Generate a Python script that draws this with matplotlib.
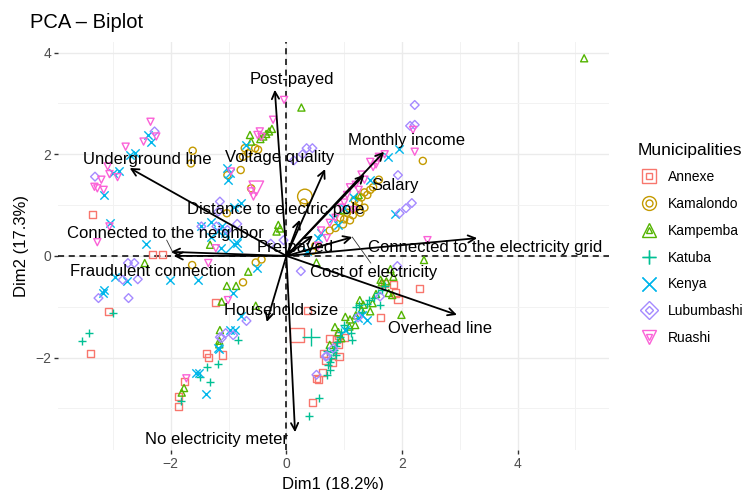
import matplotlib
matplotlib.use("Agg")
import matplotlib.pyplot as plt
from matplotlib.lines import Line2D

plt.rcParams['font.family'] = ['Liberation Sans', 'DejaVu Sans']

# ---------------- data ----------------
groups = ["Annexe", "Kamalondo", "Kampemba", "Katuba", "Kenya", "Lubumbashi", "Ruashi"]
colors = ["#F8766D", "#C49A00", "#53B400", "#00C094", "#00B6EB", "#A58AFF", "#FB61D7"]
markers = ["s", "o", "^", "+", "x", "D", "v"]

annexe_x = [-3.36, -2.31, -2.15, -3.08, -3.39, -1.76, -1.86, -1.87, -1.38, -1.35, -1.10, -1.22,
            0.37, 0.45, 0.55, 0.63, 0.67, 0.91, 0.64, 0.74, 0.90, 0.86, 0.90, 1.62, 1.85, 1.89,
            1.93, 2.31, 0.52, 1.00, 0.80, 1.70]
annexe_y = [0.81, 0.02, 0.03, -1.10, -1.92, -2.47, -2.77, -2.97, -1.92, -2.00, -1.95, -0.92,
            -1.08, -2.88, -2.44, -2.30, -2.05, -1.98, -1.92, -1.62, -1.56, -1.65, -1.75, -1.21, -0.57, -0.73,
            -0.85, -0.64, -2.42, -1.60, -2.10, -0.55]

kamalondo_x = [-1.62, -1.65, -1.63, -0.53, -0.43, -0.75, -0.72, -0.54, -0.49, -0.66, -0.75, -1.02,
               -0.79, -0.61, -1.03, 2.36, 0.93, 1.00, 1.10, 1.05, 1.20, 1.25, 1.30, 1.35, 1.18, 1.40,
               1.50, 1.28, 0.75, 0.85, 0.50, 0.45, 1.60, 0.30, 1.15, 1.35, 0.98, 1.45]
kamalondo_y = [2.07, 1.82, -0.18, -0.13, -0.07, -0.52, 2.12, 2.12, 2.09, 2.02, 1.95, 1.59,
               1.69, 1.33, 0.84, 1.87, 0.75, 0.72, 0.70, 0.85, 0.95, 1.05, 1.15, 1.25, 1.10, 1.20,
               1.35, 0.85, 0.50, 0.55, 0.20, 0.10, 1.50, 1.05, 0.80, 0.95, 0.62, 1.30]

kampemba_x = [5.15, 0.26, -0.30, -0.35, -0.40, -0.25, -0.63, -0.61, -0.14, -0.17, -0.11, -1.32,
              -2.45, -0.66, -0.87, -1.03, -1.12, -0.53, -1.15, -1.16, -1.16, -1.77, -1.81, 0.52,
              2.38, 1.80, 1.85, 1.99, 0.84, 1.09, 1.19, 1.20, 1.30, 1.45, 1.49, 1.27, 1.33, 1.65,
              1.73, 1.63, 1.77, 1.83, 1.02, 0.95, 1.00, 1.25, -0.45, 0.75, 0.90, 1.10, 1.55]
kampemba_y = [3.89, 2.92, 2.45, 2.40, 2.35, 2.50, 2.38, 2.25, 0.61, 0.48, 0.54, 0.22,
              -0.14, -0.31, -0.59, -0.59, -0.90, -0.98, -1.46, -1.67, -1.74, -2.60, -2.69, -0.13,
              -0.08, -0.26, -0.41, -1.16, -1.40, -1.39, -1.36, -1.17, -1.06, -1.09, -0.93, -0.87, -0.96, -0.52,
              -0.50, -0.47, -0.73, -0.77, -1.20, -1.62, 0.90, 1.20, 2.30, -1.75, -1.50, -1.25, -0.75]

katuba_x = [-3.00, -3.42, -3.53, -1.83, -1.38, -1.50, -1.32, -1.18, -0.83, 0.39, 0.57, 0.72,
            0.75, 0.78, 0.80, 0.85, 0.88, 0.83, 1.12, 1.13, 1.20, 1.25, 1.43, 1.52, 1.62, 1.65,
            1.59, 1.70, 0.95, 1.00, 0.76, 0.70, 0.92, 1.05, 1.30, 1.40, 0.85, 0.70]
katuba_y = [-1.13, -1.52, -1.67, -2.85, -2.18, -2.38, -2.49, -2.13, -1.65, -3.15, -2.80, -2.15,
            -2.08, -2.01, -1.90, -1.78, -1.70, -1.85, -1.52, -1.65, -1.00, -0.97, -0.87, -0.83, -0.96, -0.67,
            -0.73, -0.60, -1.50, -1.35, -2.25, -1.88, -1.60, -1.42, -1.10, -0.95, -1.95, -2.35]

kenya_x = [-2.40, -2.35, -2.61, -2.70, -2.89, -3.00, -3.16, -3.05, -2.43, -2.97, -2.75, -2.02,
           -3.15, -3.17, -1.56, -1.51, -1.39, -1.18, -0.89, -0.98, -1.16, -1.53, -0.51, -0.92,
           -0.78, -0.69, -1.03, -0.98, -1.01, -0.78, -0.90, -1.31, -1.47, -1.30, -1.07, -1.12,
           -1.18, -0.85, -1.13, 1.88, 1.01, 1.24, 1.39, 1.30, 1.95, 0.60, 0.55, 0.80, 1.45, 1.75,
           1.00, 1.15, 0.90, 0.35]
kenya_y = [2.38, 2.25, 2.03, 1.99, 1.67, 1.63, 1.19, 0.64, 0.24, -0.41, -0.49, -0.47,
           -0.67, -0.73, -2.31, -2.30, -2.72, -1.82, -1.46, -1.46, -1.84, -0.47, -0.24, -0.73,
           -1.19, 2.19, 1.73, 1.63, 1.50, 1.04, 0.97, 0.66, 0.58, 0.38, 0.45, 0.58,
           0.50, 0.25, 0.15, 0.83, -1.46, -1.23, -1.26, -1.16, 2.10, 0.45, 0.35, 0.75, 1.50, 1.95,
           0.95, 1.15, 0.60, 0.10]

lubumbashi_x = [-2.28, -3.31, -2.74, -2.63, -2.83, -2.57, -3.25, -2.73, -0.69, -1.15, -1.05, -0.92,
                -1.12, 0.52, 0.70, 0.81, 0.68, 1.24, 1.62, 1.92, 2.22, 2.14, 2.22, 1.93, 2.17,
                2.07, 1.96, 0.35, 0.45, 0.28, 0.13, -1.47, -1.21, -1.02, -0.85, -0.27, -0.05,
                -1.15, -1.18, 0.25]
lubumbashi_y = [2.45, 1.56, -0.14, -0.14, -0.47, -0.46, -0.83, -0.83, -1.28, -1.60, -1.52, -1.56,
                -1.62, -2.34, -1.97, -1.82, -1.98, -1.21, -0.80, -0.20, 2.97, 2.56, 2.58, 1.59, 1.04,
                0.94, 0.84, 2.12, 2.12, 2.00, 1.88, 0.58, 0.58, 0.51, 0.63, 0.24, 0.31,
                1.07, 0.87, -0.30]

ruashi_x = [-2.35, -2.25, -2.47, -2.78, -3.09, -3.06, -2.92, -3.20, -3.32, -3.27, -3.16, -3.06,
            -3.27, -1.73, -1.35, -1.01, -0.04, -0.23, -0.46, -0.50, -0.43, -0.96, -0.57, -0.61,
            2.19, 2.22, 1.45, 1.60, 1.50, 1.30, 1.20, 1.10, 1.05, 0.95, 1.00, 0.60, 0.70, 0.55,
            2.44, -1.22, 1.70, 1.55, 1.35, 1.25, 0.85, 0.75, 1.15]
ruashi_y = [2.64, 2.35, 2.25, 2.15, 1.76, 1.61, 1.55, 1.50, 1.36, 1.33, 1.30, 0.58,
            0.27, -2.41, -0.14, -0.87, 3.07, 2.68, 2.45, 2.38, 2.34, 1.66, 1.17, 1.27,
            2.48, 2.05, 1.85, 1.95, 1.75, 1.60, 1.40, 1.35, 1.20, 0.95, 1.05, 0.50, 0.35, 0.20,
            0.31, 0.15, 2.00, 1.80, 1.50, 1.30, 0.75, 0.65, 0.90]

# a few individuals drawn larger
big_group = ["Annexe", "Katuba", "Kamalondo", "Ruashi", "Kenya"]
big_x = [0.18, 0.42, 0.32, -0.52, -0.90]
big_y = [-1.56, -1.60, 1.17, 1.33, 0.24]

# variable arrows
var_names = ["Post-payed", "Underground line", "Voltage quality", "Monthly income", "Salary",
             "Distance to electric pole", "Connected to the neighbor", "Fraudulent connection",
             "Pre-payed", "Connected to the electricity grid", "Cost of electricity",
             "Overhead line", "Household size", "No electricity meter"]
var_x = [-0.20, -2.71, 0.67, 1.69, 1.35, 0.23, -2.00, -1.95, 0.46, 3.30, 1.14, 2.95, -0.34, 0.15]
var_y = [3.27, 1.73, 1.71, 2.05, 1.60, 0.71, 0.08, 0.00, 0.40, 0.35, 0.37, -1.16, -1.30, -3.47]
lab_x = [0.10, -2.41, -0.11, 2.08, 1.88, -0.18, -2.10, -2.31, 0.15, 3.43, 1.51, 2.66, -0.10, -1.20]
lab_y = [3.48, 1.89, 1.93, 2.28, 1.38, 0.91, 0.45, -0.30, 0.16, 0.16, -0.33, -1.42, -1.08, -3.62]

xs = [annexe_x, kamalondo_x, kampemba_x, katuba_x, kenya_x, lubumbashi_x, ruashi_x]
ys = [annexe_y, kamalondo_y, kampemba_y, katuba_y, kenya_y, lubumbashi_y, ruashi_y]

# ---------------- figure ----------------
fig = plt.figure(figsize=(7.5, 4.9), dpi=100)
ax = fig.add_axes([58/750, 1-450/490, (609-58)/750, (450-42)/490])
ax.set_xlim(-3.95, 5.58)
ax.set_ylim(-3.82, 4.21)

for s in ax.spines.values():
    s.set_visible(False)
ax.set_xticks([-2, 0, 2, 4])
ax.set_yticks([-2, 0, 2, 4])
ax.set_xticks([-3, -1, 1, 3, 5], minor=True)
ax.set_yticks([-3, -1, 1, 3], minor=True)
ax.grid(True, which='major', color='#EBEBEB', lw=1.0)
ax.grid(True, which='minor', color='#F2F2F2', lw=0.7)
ax.set_axisbelow(True)
ax.tick_params(which='major', length=3, width=1, color='#333333', labelcolor='#4D4D4D', labelsize=10, pad=2)
ax.tick_params(which='minor', length=0)
ax.set_xticklabels(['\u22122', '0', '2', '4'])
ax.set_yticklabels(['\u22122', '0', '2', '4'])

ax.axhline(0, color='black', lw=1.1, ls=(0, (4, 3)), zorder=1)
ax.axvline(0, color='black', lw=1.1, ls=(0, (4, 3)), zorder=1)

for g, c, m, x, y in zip(groups, colors, markers, xs, ys):
    if m in ['+', 'x']:
        ax.scatter(x, y, marker=m, c=c, s=36, linewidths=1.0, zorder=2)
    else:
        ax.scatter(x, y, marker=m, facecolors='none', edgecolors=c, s=26 if m != 'D' else 20,
                   linewidths=1.0, zorder=2)

for g, x, y in zip(big_group, big_x, big_y):
    i = groups.index(g)
    m = markers[i]
    if m in ['+', 'x']:
        ax.scatter([x], [y], marker=m, c=colors[i], s=150, linewidths=1.0, zorder=2)
    else:
        ax.scatter([x], [y], marker=m, facecolors='none', edgecolors=colors[i], s=110,
                   linewidths=1.0, zorder=2)

for n, vx, vy, lx, ly in zip(var_names, var_x, var_y, lab_x, lab_y):
    ax.annotate('', xy=(vx, vy), xytext=(0, 0),
                arrowprops=dict(arrowstyle='->', lw=1.3, color='black',
                                mutation_scale=13, shrinkA=0, shrinkB=0), zorder=3)
    ax.text(lx, ly, n, ha='center', va='center', fontsize=12, color='black', zorder=4)

# repel segments
ax.plot([-1.96, -2.07], [0.06, 0.31], color='#333333', lw=0.6, zorder=3)
ax.plot([1.14, 1.46], [0.37, -0.14], color='#333333', lw=0.6, zorder=3)

ax.set_xlabel('Dim1 (18.2%)', fontsize=12, labelpad=4)
ax.set_ylabel('Dim2 (17.3%)', fontsize=12, labelpad=4)
fig.text(30/750, 1-22/490, 'PCA \u2013 Biplot', fontsize=14.5, ha='left', va='center')

handles = []
for c, m in zip(colors, markers):
    if m in ['+', 'x']:
        h1 = Line2D([], [], ls='none', marker=m, color=c, markersize=10, mew=1.0)
        h2 = Line2D([], [], ls='none', marker=m, color=c, markersize=10, mew=1.0)
    else:
        ms = 10 if m != 'D' else 9
        h1 = Line2D([], [], ls='none', marker=m, color=c, markersize=ms, mew=1.0, fillstyle='none')
        h2 = Line2D([], [], ls='none', marker=m, color=c, markersize=ms*0.5, mew=1.0, fillstyle='none')
    handles.append((h1, h2))

leg = fig.legend(handles, groups, loc='upper left', bbox_to_anchor=(632/750, 1-137/490),
                 title='Municipalities', title_fontsize=12.5, fontsize=10, frameon=False,
                 labelspacing=0.92, handletextpad=0.6, handlelength=1.6, borderaxespad=0)
leg._legend_box.align = 'left'

fig.savefig('out.png', dpi=100)
